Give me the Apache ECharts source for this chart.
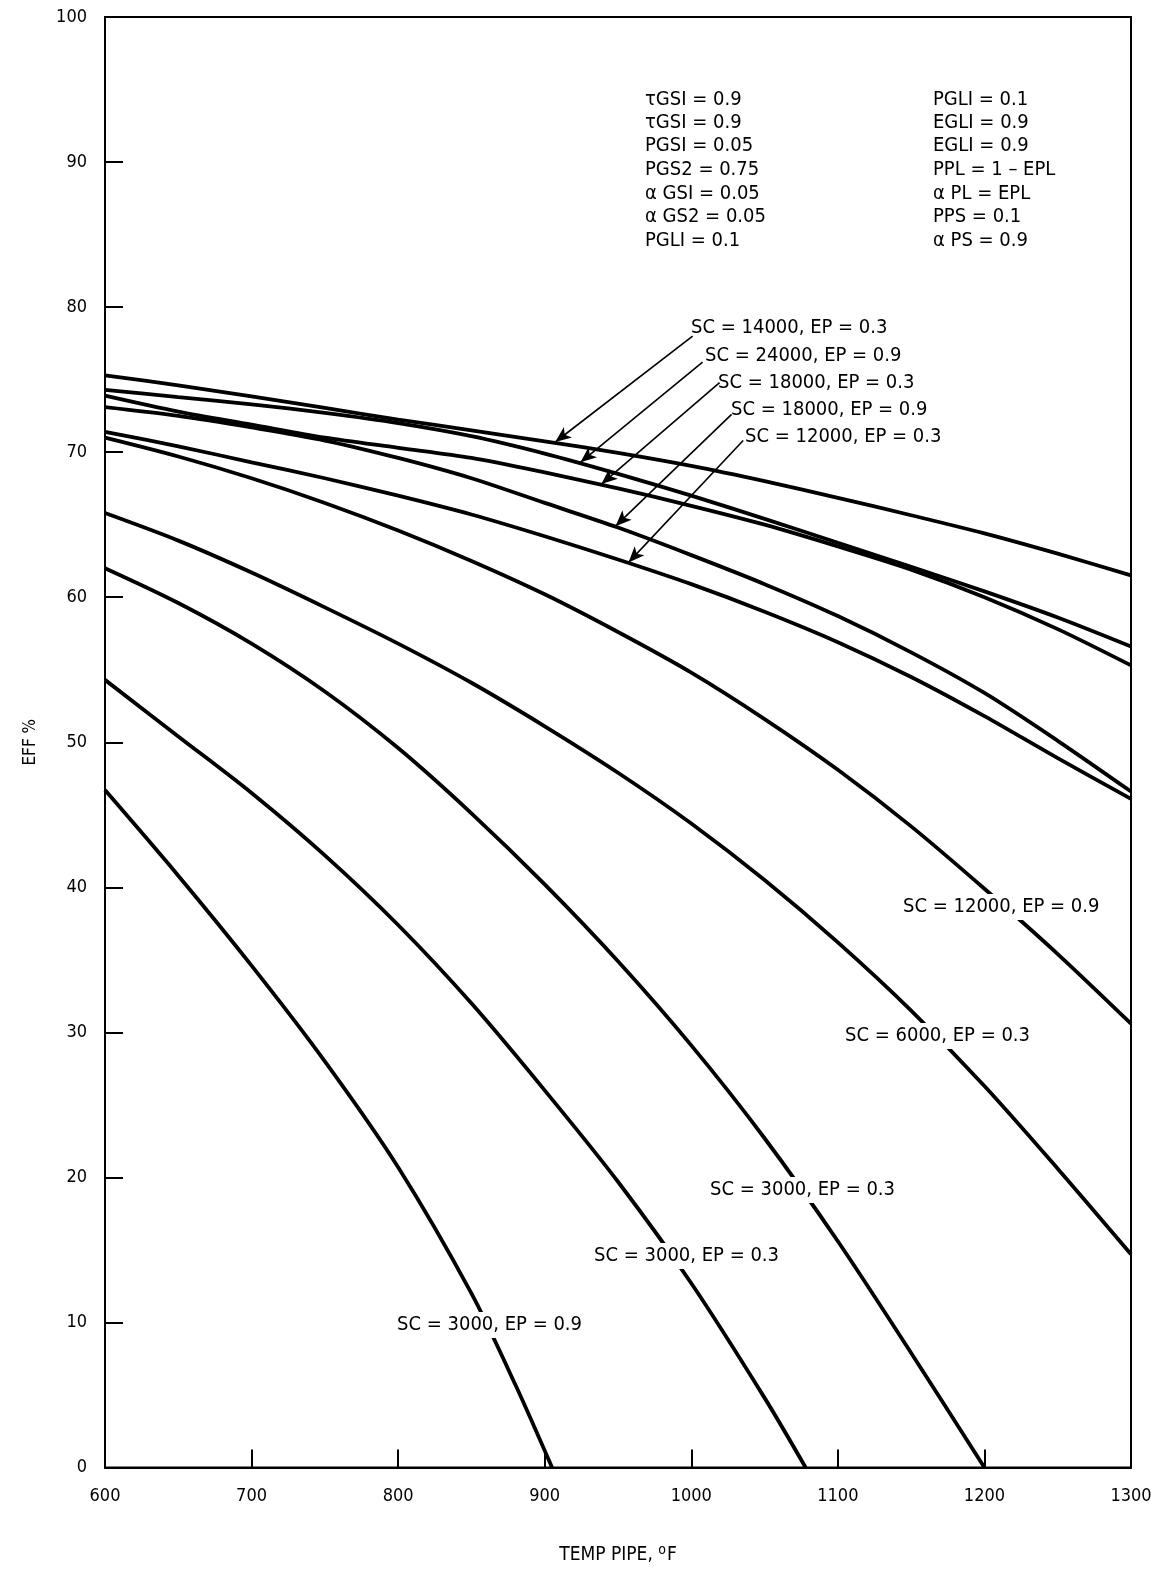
<!DOCTYPE html>
<html>
<head>
<meta charset="utf-8">
<script src="https://cdn.jsdelivr.net/npm/echarts@6/dist/echarts.min.js"></script>
<style>
html,body{margin:0;padding:0;background:#fff;}
#chart{width:1159px;height:1570px;}
</style>
</head>
<body>
<div id="chart"></div>
<script>
// ---- data ----
const tempsFull = [600,650,700,750,800,850,900,950,1000,1050,1100,1150,1200,1250,1300];
const eff_SC14000_EP03 = [75.3,74.6,73.85,73.05,72.25,71.5,70.75,69.95,69.05,68.0,66.85,65.65,64.4,63.0,61.5];
const eff_SC24000_EP09 = [74.3,73.8,73.3,72.7,72.0,71.1,69.9,68.5,67.0,65.4,63.75,62.1,60.4,58.6,56.6];
const eff_SC18000_EP03 = [73.9,72.8,71.9,71.0,70.3,69.6,68.6,67.5,66.3,65.0,63.5,61.9,60.0,57.8,55.3];
const eff_SC18000_EP09 = [73.1,72.5,71.7,70.8,69.6,68.2,66.5,64.8,62.9,60.9,58.7,56.2,53.4,50.1,46.6];
const eff_SC12000_EP03 = [71.4,70.4,69.3,68.2,67.0,65.7,64.2,62.6,60.9,59.0,56.9,54.5,51.8,48.9,46.1];
const eff_SC12000_EP09 = [71.0,69.7,68.2,66.5,64.6,62.5,60.2,57.6,54.8,51.6,48.1,44.2,39.9,35.4,30.6];
const eff_SC6000_EP03  = [65.8,63.9,61.7,59.3,56.8,54.1,51.1,47.9,44.4,40.5,36.2,31.5,26.3,20.6,14.7];
const temps_SC3000_EP03a = [600,650,700,750,800,850,900,950,1000,1050,1100,1150,1200];
const eff_SC3000_EP03a   = [62.0,59.6,56.8,53.5,49.6,45.1,40.2,34.9,29.1,22.7,15.6,7.9,0];
const temps_SC3000_EP03b = [600,650,700,750,800,850,900,950,1000,1050,1078];
const eff_SC3000_EP03b   = [54.3,50.4,46.5,42.2,37.4,32.0,26.0,19.7,12.7,4.8,0];
const temps_SC3000_EP09  = [600,650,700,750,800,850,880,905];
const eff_SC3000_EP09    = [46.7,40.8,34.6,28.0,20.7,12.0,5.7,0];

const xTicks = [600,700,800,900,1000,1100,1200,1300];
const yTicks = [0,10,20,30,40,50,60,70,80,90,100];

const paramsLeft  = ['τGSI = 0.9','τGSI = 0.9','PGSI = 0.05','PGS2 = 0.75','α GSI = 0.05','α GS2 = 0.05','PGLI = 0.1'];
const paramsRight = ['PGLI = 0.1','EGLI = 0.9','EGLI = 0.9','PPL = 1 – EPL','α PL = EPL','PPS = 0.1','α PS = 0.9'];

// arrow annotations: label, start near label [temp, eff], arrow tip on curve [temp, eff]
const arrowLabels = ['SC = 14000, EP = 0.3','SC = 24000, EP = 0.9','SC = 18000, EP = 0.3','SC = 18000, EP = 0.9','SC = 12000, EP = 0.3'];
const arrowStart = [[1000.9,78.0],[1007.7,76.2],[1019.3,74.8],[1027.5,72.6],[1035.4,70.8]];
const arrowTip   = [[907.2,70.7],[924.4,69.3],[938.7,67.8],[948.3,64.9],[957.2,62.4]];

const FONT_FAMILY = '"DejaVu Sans Condensed","DejaVu Sans",sans-serif';

function pairs(xs, ys){ return xs.map((x,i)=>[x, ys[i]]); }

const curves = [
  pairs(tempsFull, eff_SC14000_EP03),
  pairs(tempsFull, eff_SC24000_EP09),
  pairs(tempsFull, eff_SC18000_EP03),
  pairs(tempsFull, eff_SC18000_EP09),
  pairs(tempsFull, eff_SC12000_EP03),
  pairs(tempsFull, eff_SC12000_EP09),
  pairs(tempsFull, eff_SC6000_EP03),
  pairs(temps_SC3000_EP03a, eff_SC3000_EP03a),
  pairs(temps_SC3000_EP03b, eff_SC3000_EP03b),
  pairs(temps_SC3000_EP09, eff_SC3000_EP09)
];

const series = curves.map(d => ({
  type:'line', data:d, showSymbol:false, smooth:0.3,
  lineStyle:{color:'#000', width:3.8}, silent:true, z:2
}));

series.push({
  type:'line', data:[], silent:true,
  markLine:{
    silent:true, symbol:['none','arrow'], symbolSize:[10,16],
    lineStyle:{color:'#000', width:1.6, type:'solid'},
    label:{show:false},
    data: arrowStart.map((s,i)=>[{coord:s},{coord:arrowTip[i]}])
  }
});

const chart = echarts.init(document.getElementById('chart'), null, {renderer:'canvas'});

const textEl = (txt, x, y, size, bg) => ({
  type:'text', x:x, y:y, z:100, silent:true,
  style:{text:txt, font:'normal ' + size + 'px ' + FONT_FAMILY, fill:'#000',
         verticalAlign:'middle', align:'left',
         backgroundColor: bg ? '#fff' : null, padding: bg ? [3,3] : 0}
});

const graphics = [];
const paramY = [100,123,146,170,194,217,241];
paramsLeft.forEach((t,i)=>graphics.push(textEl(t, 645, paramY[i], 20, false)));
paramsRight.forEach((t,i)=>graphics.push(textEl(t, 933, paramY[i], 20, false)));
const topLabelPos = [[691,328],[705,356],[718,383],[731,410],[745,437]];
arrowLabels.forEach((t,i)=>graphics.push(textEl(t, topLabelPos[i][0], topLabelPos[i][1], 20, false)));
const lowerLabels = [
  ['SC = 12000, EP = 0.9', 900, 907],
  ['SC = 6000, EP = 0.3', 842, 1036],
  ['SC = 3000, EP = 0.3', 707, 1190],
  ['SC = 3000, EP = 0.3', 591, 1256],
  ['SC = 3000, EP = 0.9', 394, 1325]
];
lowerLabels.forEach(l=>graphics.push(textEl(l[0], l[1], l[2], 20, true)));

chart.setOption({
  animation:false,
  backgroundColor:'#fff',
  grid:{left:105, right:28, top:17, bottom:99, show:true, borderColor:'#000', borderWidth:2, backgroundColor:'transparent'},
  xAxis:{
    type:'value', min:600, max:1300, interval:100,
    name:'TEMP PIPE, {s|o}F', nameLocation:'middle', nameGap:76,
    nameTextStyle:{fontFamily:FONT_FAMILY, fontSize:19, color:'#000',
      rich:{s:{fontFamily:FONT_FAMILY, fontSize:14, color:'#000', padding:[0,1,10,0]}}},
    axisLine:{show:true, lineStyle:{color:'#000', width:2}},
    axisTick:{show:true, inside:true, length:18, lineStyle:{color:'#000', width:2}},
    axisLabel:{fontFamily:FONT_FAMILY, fontSize:18, color:'#000', margin:20,
      formatter:v=>xTicks.includes(v)?String(v):''},
    splitLine:{show:false}
  },
  yAxis:{
    type:'value', min:0, max:100, interval:10,
    name:'EFF %', nameLocation:'middle', nameGap:66, nameRotate:90,
    nameTextStyle:{fontFamily:FONT_FAMILY, fontSize:17, color:'#000'},
    axisLine:{show:true, lineStyle:{color:'#000', width:2}},
    axisTick:{show:true, inside:true, length:18, lineStyle:{color:'#000', width:2}},
    axisLabel:{fontFamily:FONT_FAMILY, fontSize:18, color:'#000', margin:18,
      formatter:v=>yTicks.includes(v)?String(v):''},
    splitLine:{show:false}
  },
  series:series,
  graphic:graphics
});
</script>
</body>
</html>
